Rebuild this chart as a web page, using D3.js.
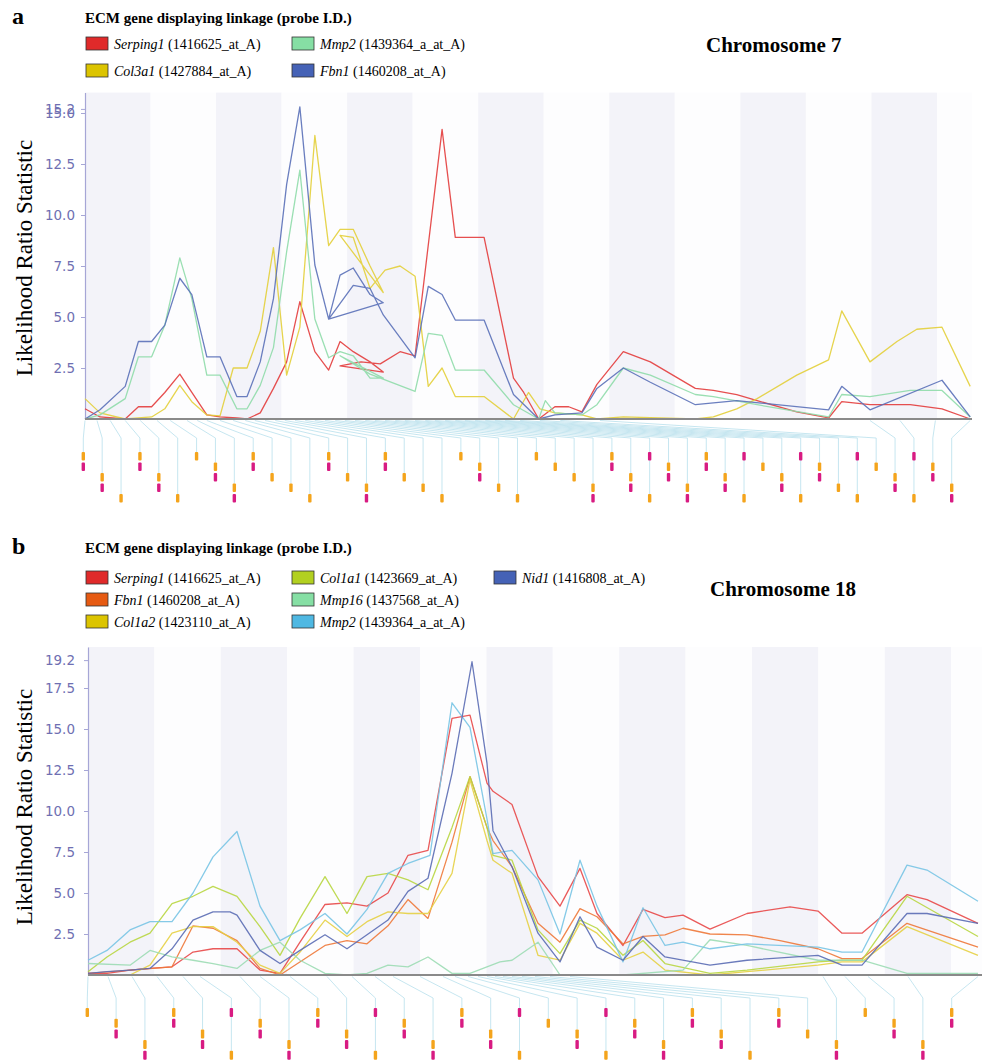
<!DOCTYPE html>
<html>
<head>
<meta charset="utf-8">
<script src="https://cdn.jsdelivr.net/npm/d3@7"></script>
<style>
  body { margin: 0; background: #fff; }
  svg { display: block; }
</style>
</head>
<body>
<svg id="chart" width="984" height="1062"></svg>
<script>
// ---- Chromosome 7 : LRS traces, [position (Mb), LRS] in drawing order ----
var chr7Serping1 = [[0,0.5],[2.5,0.1],[6.7,0],[8.9,0.6],[11.1,0.6],[13.3,1.3],[15.8,2.2],[17.8,1.3],[20.3,0.2],[22.5,0.1],[25.3,0.05],[27.0,0],[29.2,0.3],[31.4,1.5],[33.6,2.8],[35.8,5.75],[38.3,3.3],[40.6,2.4],[42.5,3.8],[44.7,3.3],[47.5,2.8],[49.7,2.3],[42.5,2.6],[46.0,2.8],[49.2,2.7],[52.5,3.3],[55.0,3.1],[59.5,14.2],[61.7,8.9],[66.5,8.9],[71.4,2.0],[73.1,1.3],[75.6,0],[78.3,0.6],[80.6,0.6],[82.8,0.35],[85.3,1.7],[89.7,3.3],[94.2,2.8],[101.7,1.5],[104.7,1.4],[108.6,1.2],[112.0,0.9],[118.6,0.35],[123.9,0.05],[126.1,0.85],[130.8,0.7],[137.5,0.7],[142.8,0.5],[147.5,0]];
var chr7Col3a1 = [[0,1.0],[2.5,0.3],[6.7,0],[11.1,0.1],[13.3,0.5],[15.8,1.65],[17.8,0.85],[20.3,0.2],[22.5,0.15],[24.7,2.5],[27.0,2.5],[29.2,4.3],[31.4,8.4],[33.6,2.15],[35.8,4.5],[38.3,13.9],[40.6,8.5],[42.5,9.3],[44.7,9.3],[47.5,7.5],[49.7,6.2],[42.5,9.0],[44.7,8.9],[47.5,6.4],[50.0,7.3],[52.5,7.5],[55.0,7.0],[57.2,1.6],[59.5,2.5],[61.7,1.1],[66.5,1.1],[71.4,0],[73.9,1.3],[75.8,0.5],[78.3,0.3],[82.8,0.2],[85.3,0],[89.7,0.1],[101.7,0],[104.7,0.1],[108.6,0.5],[112.0,1.0],[118.6,2.15],[123.9,2.9],[126.1,5.3],[130.8,2.8],[135.3,3.8],[138.6,4.4],[142.8,4.5],[147.5,1.6]];
var chr7Mmp2 = [[0,0],[2.5,0.2],[6.7,1.0],[8.9,3.05],[11.1,3.05],[13.3,4.6],[15.8,7.9],[17.8,5.9],[20.3,2.15],[22.5,2.15],[25.3,0.5],[27.0,0.5],[29.2,1.65],[31.4,3.5],[33.6,8.2],[35.8,12.2],[38.3,4.9],[40.6,3.0],[42.5,3.3],[44.7,3.1],[47.5,2.0],[49.7,2.0],[42.5,3.1],[47.5,2.2],[55.0,1.35],[57.2,4.2],[59.5,4.1],[61.7,2.4],[66.5,2.4],[71.4,0.7],[75.6,0],[76.7,0.9],[78.3,0.3],[82.8,0.2],[85.3,0.7],[89.7,2.5],[94.2,2.15],[101.7,1.2],[104.7,1.1],[112.0,0.7],[123.9,0.1],[126.1,1.2],[130.8,1.1],[137.5,1.4],[142.8,1.4],[147.5,0.1]];
var chr7Fbn1 = [[0,0],[2.5,0.45],[6.7,1.6],[8.9,3.8],[11.1,3.8],[13.3,4.6],[15.8,6.9],[17.8,6.1],[20.3,3.05],[22.5,3.05],[25.3,1.1],[27.0,1.1],[29.2,2.8],[31.4,5.9],[33.6,11.5],[35.8,15.3],[38.3,7.55],[40.6,4.9],[42.5,7.05],[44.7,7.4],[47.5,6.1],[49.7,5.7],[40.6,4.9],[44.7,6.55],[47.5,6.4],[49.7,5.1],[55.0,3.0],[57.2,6.5],[59.5,6.1],[61.7,4.85],[66.5,4.85],[71.4,1.2],[75.6,0],[78.3,0.2],[82.8,0.3],[85.3,1.5],[89.7,2.5],[94.2,1.8],[101.7,0.7],[108.6,0.9],[123.9,0.45],[126.1,1.6],[130.8,0.45],[142.8,1.9],[147.5,0.1]];

var chr7Genes  = ["Serping1", "Col3a1", "Mmp2", "Fbn1"];
var chr7Probes = ["1416625_at_A", "1427884_at_A", "1439364_a_at_A", "1460208_at_A"];
var chr7Ticks  = [2.5, 5, 7.5, 10, 12.5, 15, 15.2];

// markers under the chr7 plot
var chr7MarkerPos   = [0,2.0,4.2,6.7,9.2,12.0,14.2,17.0,18.7,20.3,22.5,24.7,26.7,28.3,30.0,31.7,33.3,35.0,36.7,38.3,40.0,41.7,43.3,45.0,46.7,48.3,50.0,51.7,53.3,55.0,56.7,58.3,60.0,61.7,63.3,65.0,66.7,68.3,70.0,72.5,75.8,79.2,85.8,130.8,135.8,141.7,147.5];
var chr7MarkerLevel = [0,2,4,0,2,4,0,1,3,0, 2,3,4,0,2,3,0,2,3,4, 0,1,3,4,0,1,2,3,0,2, 4,1,3,0,2,4,1,2,4,1, 3,4,1,2,4,1,3];
var chr7MarkerPink  = [1,1,0,1,1,0,0,1,1,1, 0,0,0,1,0,1,1,0,0,0, 0,1,0,0,0,0,0,1,1,1, 1,1,1,1,1,1,0,1,1,1, 0,1,0,1,1,1,1];

// ---- Chromosome 18 ----
var chr18Serping1 = [[0,0.1],[1.9,0.1],[4.2,0.3],[6.2,0.4],[8.4,0.5],[10.5,1.4],[12.5,1.6],[14.9,1.6],[17.2,0.3],[19.2,0.1],[21.2,2.0],[23.7,4.3],[25.9,4.4],[27.9,4.2],[30.0,5.0],[32.0,7.3],[34.0,7.6],[36.4,15.65],[38.2,15.85],[39.9,11.7],[40.5,11.2],[42.4,10.4],[45.0,6.0],[47.2,4.2],[49.2,6.5],[50.9,3.75],[53.5,1.8],[55.5,4.0],[57.7,3.5],[59.5,3.65],[62.2,2.8],[65.9,3.75],[70.2,4.15],[73.0,3.9],[75.4,2.55],[77.4,2.55],[81.9,4.9],[83.9,4.6],[89.0,3.15]];
var chr18Fbn1 = [[0,0.1],[4.2,0.3],[8.4,0.5],[10.5,3.0],[12.5,2.85],[14.9,2.1],[17.2,0.4],[19.2,0],[23.7,1.8],[25.9,2.1],[27.9,1.9],[30.0,3.0],[32.0,4.6],[34.0,3.45],[36.4,8.1],[38.2,12.1],[39.9,9.0],[40.5,8.2],[42.4,6.6],[45.0,3.15],[47.2,2.0],[49.2,4.05],[50.9,3.55],[53.5,1.9],[55.5,2.35],[57.7,2.45],[59.5,2.85],[62.2,2.5],[65.9,2.45],[69.2,2.1],[73.0,1.6],[75.4,1.0],[77.4,1.0],[81.9,3.15],[89.0,1.7]];
var chr18Col1a2 = [[0,0],[4.2,0],[6.2,0.6],[8.4,2.55],[10.5,2.95],[12.5,2.95],[14.9,2.0],[17.2,0.6],[19.2,0.1],[21.2,1.4],[23.7,3.35],[25.9,2.35],[27.9,3.25],[30.0,3.85],[32.0,3.75],[34.0,3.75],[36.4,6.2],[38.2,11.9],[39.9,8.2],[40.5,7.0],[42.4,6.2],[45.0,1.2],[47.2,0.9],[49.2,3.15],[50.9,2.55],[53.5,0.9],[55.5,1.4],[57.7,0.3],[62.2,0],[65.9,0.2],[73.0,0.6],[75.4,0.8],[77.4,0.8],[81.9,2.95],[89.0,1.2]];
var chr18Col1a1 = [[0,0.2],[1.9,1.1],[4.2,2.0],[6.2,2.55],[8.4,4.35],[10.5,4.8],[12.5,5.4],[14.9,4.8],[17.2,2.95],[19.2,1.2],[21.2,3.45],[23.7,6.0],[25.9,3.75],[27.9,6.0],[30.0,6.2],[32.0,5.8],[34.0,5.2],[36.4,9.0],[38.2,12.1],[39.9,9.0],[40.5,7.3],[42.4,7.0],[45.0,2.75],[47.2,1.3],[49.2,3.35],[50.9,2.85],[53.5,1.2],[55.5,2.1],[57.7,0.7],[62.2,0.1],[65.9,0.3],[73.0,0.8],[75.4,0.9],[77.4,0.9],[81.9,4.8],[89.0,2.35]];
var chr18Mmp16 = [[0,0.7],[4.2,0.6],[6.2,1.5],[8.4,1.1],[10.5,0.9],[12.5,0.7],[14.9,0.4],[17.2,1.5],[19.2,2.0],[21.2,0.9],[23.7,0.1],[25.9,0],[27.9,0.1],[30.0,0.6],[32.0,0.5],[34.0,1.1],[36.4,0.1],[38.2,0.1],[41.2,0.8],[42.4,0.9],[45.0,2.0],[47.2,0],[53.5,0],[59.5,0.3],[62.2,2.15],[65.9,1.8],[73.0,0.9],[77.4,0.9],[81.9,0.1],[89.0,0.1]];
var chr18Mmp2 = [[0,0.9],[1.9,1.5],[4.2,2.75],[6.2,3.25],[8.4,3.25],[10.5,5.0],[12.5,7.2],[14.9,8.75],[17.2,4.2],[19.2,2.1],[21.2,2.75],[23.7,3.75],[25.9,2.5],[27.9,4.0],[30.0,6.2],[32.0,6.8],[34.2,7.3],[36.4,16.6],[38.2,15.1],[39.9,9.5],[40.5,7.4],[42.4,7.6],[45.0,5.8],[47.2,2.5],[49.2,7.0],[50.9,4.2],[53.5,0.8],[55.5,4.1],[57.7,1.8],[59.5,2.0],[62.2,1.6],[65.9,1.9],[73.0,1.7],[75.4,1.4],[77.4,1.4],[81.9,6.7],[83.9,6.4],[89.0,4.5]];
var chr18Nid1 = [[0,0.1],[1.9,0.2],[4.2,0.3],[6.2,0.4],[8.4,1.6],[10.5,3.35],[12.5,3.85],[14.2,3.85],[14.9,3.65],[17.2,1.5],[19.2,0.7],[21.2,1.5],[23.7,2.45],[25.9,1.6],[27.9,2.45],[30.0,3.35],[32.0,5.1],[34.0,5.9],[36.4,12.3],[38.4,19.1],[39.9,12.9],[40.5,8.8],[42.4,6.6],[45.0,2.55],[47.2,0.8],[49.2,3.55],[50.9,1.7],[53.5,0.9],[55.5,2.35],[57.7,1.1],[62.2,0.6],[65.9,0.9],[73.0,1.2],[75.4,0.6],[77.4,0.6],[81.9,3.75],[83.9,3.75],[89.0,3.15]];

var chr18Genes  = ["Serping1", "Fbn1", "Col1a2", "Col1a1", "Mmp16", "Mmp2", "Nid1"];
var chr18Probes = ["1416625_at_A", "1460208_at_A", "1423110_at_A", "1423669_at_A", "1437568_at_A", "1439364_a_at_A", "1416808_at_A"];
var chr18Ticks  = [2.5, 5, 7.5, 10, 12.5, 15, 17.5, 19.2];

var chr18MarkerPos   = [0,2.0,4.4,6.9,9.5,11.2,15.2,17.2,20.2,23.9,26.4,28.7,30.5,33.2,35.5,36.7,38.0,39.0,39.9,40.7,41.5,42.4,43.4,44.7,46.2,48.2,73.5,75.7,78.0,82.0,89.0];
var chr18MarkerLevel = [0,1,3,0,2,4,1,3,0,2, 4,1,3,0,2,4,1,2,4,1, 3,0,2,4,0,2,3,0,1,3, 0];
var chr18MarkerPink  = [0,1,1,1,1,1,1,1,1,1, 1,1,1,1,1,1,0,1,1,1, 1,1,1,0,1,0,1,0,1,1, 1];

// colours (legend swatch, trace), in legend order
var chr7Swatch  = ["#e02a2a", "#dcc400", "#86dfa4", "#4562b6"];
var chr7Stroke  = ["#e33c3c", "#e3cf3a", "#8fdcaa", "#5a70b8"];
var chr18Swatch = ["#e02a2a", "#e65a12", "#dcc400", "#b2d020", "#86dfa4", "#4fb8e2", "#4562b6"];
var chr18Stroke = ["#e84848", "#ee7838", "#e6d044", "#b8d640", "#9cdcb4", "#78c4e4", "#5a6cb4"];

var serif = "'Liberation Serif', 'Times New Roman', serif";
var svg = d3.select("#chart");

function drawPanel(p) {
    var g = svg.append("g");

    // panel letter + legend title
    g.append("text").attr("x", 12).attr("y", p.titleY + 1)
        .attr("font-family", serif).attr("font-weight", "bold").attr("font-size", 24)
        .text(p.letter);
    g.append("text").attr("x", 85).attr("y", p.titleY)
        .attr("font-family", serif).attr("font-weight", "bold").attr("font-size", 15)
        .text("ECM gene displaying linkage (probe I.D.)");

    // legend
    var leg = g.selectAll(".leg").data(p.genes).enter().append("g")
        .attr("transform", function (d, i) {
            var col = Math.floor(i / p.legRows), row = i % p.legRows;
            return "translate(" + p.legColX[col] + "," + (p.legY0 + row * p.legDy) + ")";
        });
    leg.append("rect").attr("x", 0).attr("y", -7).attr("width", 22).attr("height", 13)
        .attr("fill", function (d, i) { return p.swatch[i]; })
        .attr("stroke", "#333").attr("stroke-width", 0.8);
    var lt = leg.append("text").attr("x", 28).attr("y", 5)
        .attr("font-family", serif).attr("font-size", 14);
    lt.append("tspan").attr("font-style", "italic").text(function (d) { return d; });
    lt.append("tspan").text(function (d, i) { return " (" + p.probes[i] + ")"; });

    g.append("text").attr("x", p.chromX).attr("y", p.chromY)
        .attr("font-family", serif).attr("font-weight", "bold").attr("font-size", 21)
        .text(p.chrom);

    // scales
    var x = d3.scaleLinear().domain([0, p.xMax]).range([p.x0, p.x1]);
    var y = d3.scaleLinear().domain([0, p.yMax]).range([p.yBase, p.yTop]);

    // alternating background bands
    var bands = d3.range(0, p.xMax, p.bandW);
    g.selectAll(".band").data(bands).enter().append("rect")
        .attr("x", function (d) { return x(d); })
        .attr("y", p.yTop)
        .attr("width", function (d) { return x(Math.min(d + p.bandW, p.xMax)) - x(d); })
        .attr("height", p.yBase - p.yTop)
        .attr("fill", function (d, i) { return i % 2 == 0 ? "#f3f3f9" : "#fdfdfe"; });

    // y axis
    var ya = g.append("g")
        .attr("transform", "translate(" + p.x0 + ",0)")
        .call(d3.axisLeft(y).tickValues(p.ticks).tickFormat(d3.format(".1f"))
            .tickSize(4).tickSizeOuter(0).tickPadding(p.tickPad));
    ya.select(".domain").attr("stroke", "#a6a6d6").attr("stroke-width", 1.2);
    ya.selectAll(".tick line").attr("stroke", "#a6a6d6");
    ya.selectAll(".tick text").attr("fill", "#6f6fb2")
        .attr("font-family", "'DejaVu Sans', Verdana, sans-serif").attr("font-size", 13.5);

    g.append("text")
        .attr("transform", "translate(" + 32 + "," + p.labelY + ") rotate(-90)")
        .attr("text-anchor", "middle")
        .attr("font-family", serif).attr("font-size", 23)
        .text("Likelihood Ratio Statistic");

    // LRS traces (series follow legend order)
    var line = d3.line()
        .x(function (d) { return x(d[0]); })
        .y(function (d) { return y(d[1]); });
    p.series.forEach(function (s, i) {
        g.append("path")
            .datum(s)
            .attr("fill", "none")
            .attr("stroke", p.stroke[i])
            .attr("stroke-width", 1.3)
            .attr("stroke-opacity", 0.9)
            .attr("stroke-linejoin", "round")
            .attr("d", line);
    });

    // x baseline
    g.append("line")
        .attr("x1", p.x0).attr("x2", p.x1)
        .attr("y1", y(0)).attr("y2", y(0))
        .attr("stroke", "#8a8a8a").attr("stroke-width", 2);

    // marker track: fan lines + orange / pink ticks
    var col = d3.scalePoint().domain(d3.range(p.markerPos.length)).range(p.colRange);
    var levelY = function (l) { return p.levelTop + l * p.levelDy; };

    g.selectAll(".fan").data(p.markerPos).enter().append("path")
        .attr("fill", "none").attr("stroke", "#bfe3ee").attr("stroke-width", 0.9)
        .attr("d", function (d, i) {
            return "M" + x(d) + "," + (p.yBase + 1.5) +
                "L" + col(i) + "," + p.elbowY +
                "L" + col(i) + "," + levelY(p.markerLevel[i]);
        });

    g.selectAll(".mo").data(p.markerPos).enter().append("rect")
        .attr("x", function (d, i) { return col(i) - 1.7; })
        .attr("y", function (d, i) { return levelY(p.markerLevel[i]); })
        .attr("width", 3.4).attr("height", p.barH).attr("rx", 1)
        .attr("fill", "#f4a41c");

    var pinkIdx = d3.range(p.markerPos.length).filter(function (i) { return p.markerPink[i]; });
    g.selectAll(".mp").data(pinkIdx).enter().append("rect")
        .attr("x", function (i) { return col(i) - 1.7; })
        .attr("y", function (i) { return levelY((p.markerLevel[i] + 1) % 5); })
        .attr("width", 3.4).attr("height", p.barH).attr("rx", 1)
        .attr("fill", "#d81b82");
}

drawPanel({
    letter: "a", titleY: 23, chrom: "Chromosome 7", chromX: 706, chromY: 52,
    genes: chr7Genes, probes: chr7Probes, swatch: chr7Swatch, stroke: chr7Stroke,
    legRows: 2, legColX: [86, 292], legY0: 44, legDy: 27,
    series: [chr7Serping1, chr7Col3a1, chr7Mmp2, chr7Fbn1],
    xMax: 147.8, x0: 85, x1: 972, bandW: 10.92,
    yMax: 16, yBase: 419, yTop: 92.6, ticks: chr7Ticks, tickPad: 6, labelY: 258,
    markerPos: chr7MarkerPos, markerLevel: chr7MarkerLevel, markerPink: chr7MarkerPink,
    colRange: [83.3, 951.7], elbowY: 438, levelTop: 452, levelDy: 10.5, barH: 8.5
});

drawPanel({
    letter: "b", titleY: 553, chrom: "Chromosome 18", chromX: 710, chromY: 596,
    genes: chr18Genes, probes: chr18Probes, swatch: chr18Swatch, stroke: chr18Stroke,
    legRows: 3, legColX: [86, 292, 494], legY0: 578, legDy: 22,
    series: [chr18Serping1, chr18Fbn1, chr18Col1a2, chr18Col1a1, chr18Mmp16, chr18Mmp2, chr18Nid1],
    xMax: 89.4, x0: 88, x1: 982, bandW: 6.64,
    yMax: 20, yBase: 975, yTop: 647, ticks: chr18Ticks, tickPad: 9, labelY: 807,
    markerPos: chr18MarkerPos, markerLevel: chr18MarkerLevel, markerPink: chr18MarkerPink,
    colRange: [87.3, 951.7], elbowY: 998, levelTop: 1008, levelDy: 10.7, barH: 9
});
</script>
</body>
</html>
